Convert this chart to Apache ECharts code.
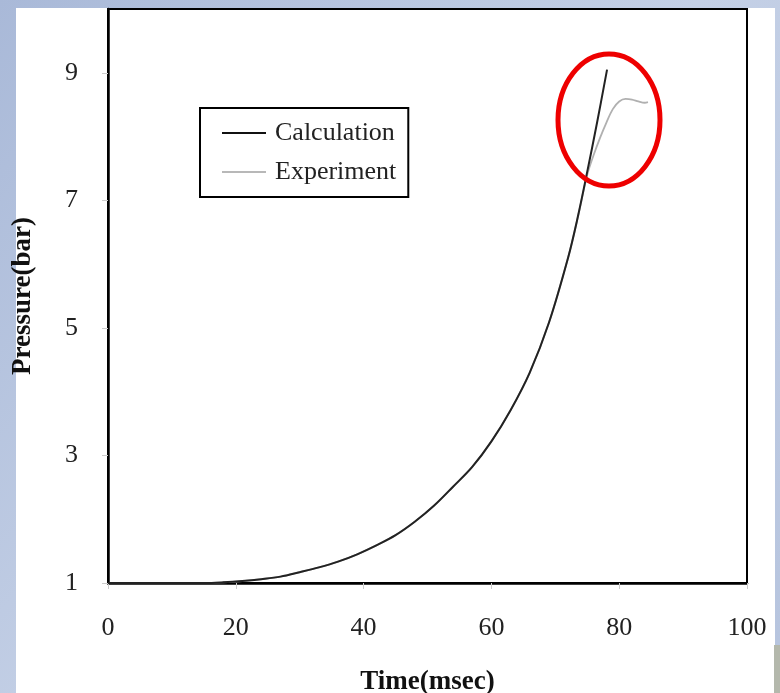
<!DOCTYPE html>
<html>
<head>
<meta charset="utf-8">
<script src="https://cdn.jsdelivr.net/npm/echarts@6/dist/echarts.min.js"></script>
<style>
  html, body { margin: 0; padding: 0; }
  #chart { width: 780px; height: 693px; }
</style>
</head>
<body>
<div id="chart"></div>
<script>
// values (time in msec, pressure in bar)
var calcTime = [0, 6, 12, 15, 18, 21, 24, 27, 30, 33, 36, 39, 42, 45, 48, 51, 54, 57, 60, 63, 66, 69, 72, 73.5, 75, 76.5, 78.1]
var calcPressure = [1.0, 1.0, 1.0, 1.0, 1.01, 1.03, 1.06, 1.10, 1.17, 1.245, 1.335, 1.45, 1.59, 1.75, 1.96, 2.21, 2.51, 2.82, 3.22, 3.71, 4.30, 5.08, 6.10, 6.73, 7.45, 8.20, 9.05]

var expTime = [0, 6, 12, 15, 18, 21, 24, 27, 30, 33, 36, 39, 42, 45, 48, 51, 54, 57, 60, 63, 66, 69, 72, 73.5, 75, 76, 77, 78, 79, 80, 81, 82, 83, 84, 84.5]
var expPressure = [1.0, 1.0, 1.0, 1.0, 1.01, 1.03, 1.06, 1.10, 1.17, 1.245, 1.335, 1.45, 1.59, 1.75, 1.96, 2.21, 2.51, 2.82, 3.22, 3.71, 4.30, 5.08, 6.10, 6.72, 7.40, 7.71, 7.98, 8.22, 8.43, 8.55, 8.59, 8.58, 8.55, 8.53, 8.54]

var xTicks = [0, 20, 40, 60, 80, 100]
var yTicks = [1, 3, 5, 7, 9]

function zip(xs, ys) {
  return xs.map(function (x, i) { return [x, ys[i]] })
}

var serif = 'Liberation Serif'
var myChart = echarts.init(document.getElementById('chart'))

var option = {
  animation: false,
  backgroundColor: {
    type: 'linear', x: 0, y: 0, x2: 1, y2: 1,
    colorStops: [
      { offset: 0, color: '#a9b9d8' },
      { offset: 0.5, color: '#c4d0e6' },
      { offset: 1, color: '#b6c4de' }
    ]
  },
  graphic: {
    elements: [
      { type: 'rect', z: -100, shape: { x: 16, y: 8, width: 759, height: 685 }, style: { fill: '#ffffff' } },
      { type: 'rect', z: -90, shape: { x: 774, y: 645, width: 6, height: 48 }, style: { fill: '#b4b8ac' } },
      { type: 'ellipse', z: 100, shape: { cx: 609, cy: 120, rx: 51, ry: 66 },
        style: { fill: 'none', stroke: '#ee0000', lineWidth: 5 } }
    ]
  },
  grid: {
    left: 108, right: 33, top: 9, bottom: 110,
    outerBoundsMode: 'none',
    show: true, backgroundColor: '#fff', borderColor: '#000', borderWidth: 2
  },
  legend: {
    left: 200, top: 108,
    orient: 'vertical',
    padding: [12, 12, 12, 22],
    itemGap: 13,
    itemWidth: 44,
    itemHeight: 2,
    icon: 'rect',
    borderColor: '#000',
    borderWidth: 2,
    backgroundColor: '#fff',
    textStyle: { fontFamily: serif, fontSize: 26, color: '#222', padding: [0, 0, 0, 4] },
    data: ['Calculation', 'Experiment']
  },
  xAxis: {
    type: 'value',
    min: 0, max: 100, interval: 20,
    name: 'Time(msec)',
    nameLocation: 'middle',
    nameGap: 86,
    nameTextStyle: { fontFamily: serif, fontSize: 27, fontWeight: 'bold', color: '#111' },
    axisLine: { lineStyle: { color: '#000', width: 2.5 } },
    axisTick: { show: true, inside: false, length: 6, lineStyle: { color: '#ccc' }, customValues: xTicks },
    axisLabel: { margin: 32, fontFamily: serif, fontSize: 26, color: '#222', customValues: xTicks },
    splitLine: { show: false }
  },
  yAxis: {
    type: 'value',
    min: 1, max: 10, interval: 2,
    name: 'Pressure(bar)',
    nameLocation: 'middle',
    nameGap: 71,
    nameRotate: 90,
    nameTextStyle: { fontFamily: serif, fontSize: 27, fontWeight: 'bold', color: '#111' },
    axisLine: { lineStyle: { color: '#000', width: 2.5 } },
    axisTick: { show: true, inside: false, length: 6, lineStyle: { color: '#ccc' }, customValues: yTicks },
    axisLabel: { margin: 30, fontFamily: serif, fontSize: 26, color: '#222', customValues: yTicks },
    splitLine: { show: false }
  },
  series: [
    {
      name: 'Experiment',
      type: 'line',
      data: zip(expTime, expPressure),
      symbol: 'none',
      smooth: 0.35,
      lineStyle: { color: '#b0b0b0', width: 1.8 },
      itemStyle: { color: '#b8b8b8' },
      z: 2
    },
    {
      name: 'Calculation',
      type: 'line',
      data: zip(calcTime, calcPressure),
      symbol: 'none',
      smooth: 0.35,
      lineStyle: { color: '#222', width: 2 },
      itemStyle: { color: '#111' },
      z: 3
    }
  ]
}

myChart.setOption(option)
</script>
</body>
</html>
